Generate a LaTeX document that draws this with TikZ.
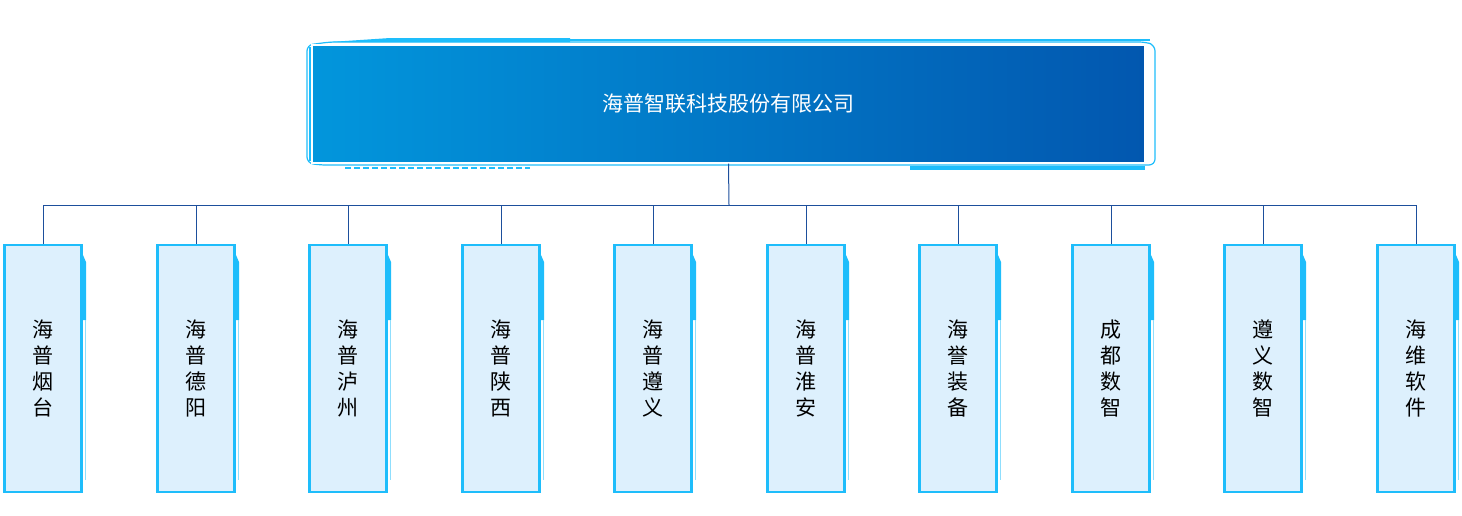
\documentclass[tikz,border=0pt]{standalone}
\usepackage{fontspec}
\newfontfamily\cjk{Noto Sans CJK SC}
\definecolor{cy}{HTML}{1EBDFB}
\definecolor{ln}{HTML}{1D4F9C}
\definecolor{lf}{HTML}{DDF0FD}
\definecolor{g1}{HTML}{0296DC}
\definecolor{g2}{HTML}{0257AF}
\tikzset{child/.style={draw=cy,line width=1.2pt,fill=lf,minimum width=38.5pt,minimum height=123.5pt,inner sep=0pt,font=\cjk\fontsize{10.5}{13}\selectfont,align=center},
conn/.style={draw=ln,line width=0.5pt}}
\begin{document}
\begin{tikzpicture}[x=0.5pt,y=-0.5pt]
\useasboundingbox (0,0) rectangle (1462,515);
% top frame decorations
\draw[cy,line width=0.6pt,rounded corners=3pt] (330,42) -- (307,45) -- (307,163) -- (320,165) -- (1155,165) -- (1155,45) -- (1145,42) -- cycle;
\fill[cy] (390,38) -- (570,38) -- (570,42) -- (330,42) -- cycle;
\draw[cy,line width=0.6pt] (570,40) -- (1150,40);
\draw[cy,line width=1pt,dashed,dash pattern=on 3pt off 1.5pt] (345,168) -- (530,168);
\fill[cy] (910,166) rectangle (1145,170);
\fill[cy] (309,47) rectangle (315,161);
\node[minimum width=416.5pt,minimum height=59pt,inner sep=0pt,left color=g1,right color=g2,draw=white,line width=0.6pt,font=\cjk\fontsize{10.5}{13}\selectfont,text=white] (top) at (728.5,104) {海普智联科技股份有限公司};
\coordinate (j) at (729,205);
\draw[conn] (top.south) -- (j);
\foreach \i/\x/\t in {1/43/海\\普\\烟\\台,2/196/海\\普\\德\\阳,3/348/海\\普\\泸\\州,4/501/海\\普\\陕\\西,5/653/海\\普\\遵\\义,6/806/海\\普\\淮\\安,7/958/海\\誉\\装\\备,8/1111/成\\都\\数\\智,9/1263/遵\\义\\数\\智,10/1416/海\\维\\软\\件}{
 \fill[cy] (\x-39,420) -- (\x-37,420) -- (\x-37,490) -- (\x-39,480) -- cycle;
 \draw[cy!50,line width=0.5pt] (\x-39,255) -- (\x-39,420);
 \fill[cy] (\x+40,255) -- (\x+43,262) -- (\x+43,320) -- (\x+40,320) -- cycle;
 \draw[cy!50,line width=0.5pt] (\x+42,320) -- (\x+42,480);
 \node[child] (c\i) at (\x,368.5) {\t};
 \coordinate (h\i) at (\x,205);
 \draw[conn] (h\i) -- (c\i.north);
}
\draw[conn] (h1) -- (h10);
\end{tikzpicture}
\end{document}
